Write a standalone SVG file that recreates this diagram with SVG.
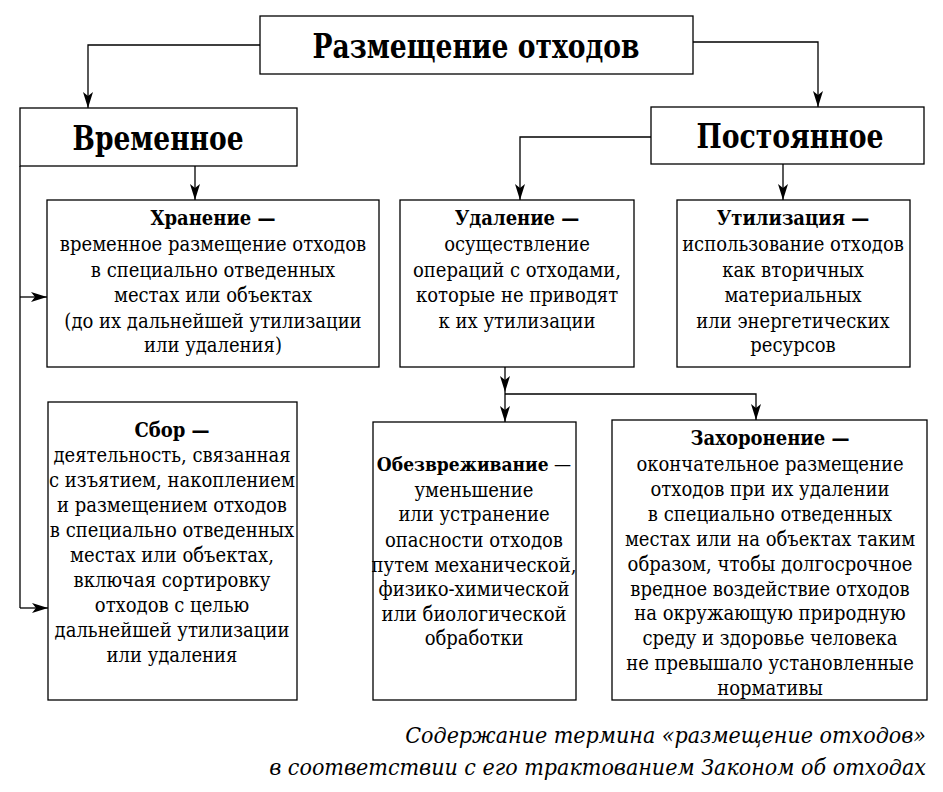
<svg xmlns="http://www.w3.org/2000/svg" width="943" height="792" viewBox="0 0 943 792">
<defs>
<marker id="ah" viewBox="0 0 16 10" refX="16" refY="5" markerWidth="16" markerHeight="10" markerUnits="userSpaceOnUse" orient="auto">
<path d="M0,0 L16,5 L0,10 L4,5 Z" fill="#000"/>
</marker>
<style>
rect.box{fill:#fff;stroke:#000;stroke-width:1.3}
.h{font-family:"DejaVu Serif",serif;font-stretch:condensed;font-weight:bold;font-size:34px;text-anchor:middle}
.t{font-family:"DejaVu Serif",serif;font-stretch:condensed;font-size:20px;text-anchor:middle}
.b{font-weight:bold}
.c{font-family:"DejaVu Serif",serif;font-stretch:condensed;font-style:italic;font-size:23px;text-anchor:end}
.ln{fill:none;stroke:#000;stroke-width:1.3}
</style>
</defs>
<rect width="943" height="792" fill="#fff"/>
<g id="connectors">
<path class="ln" d="M260,45 H88 V108" marker-end="url(#ah)"/>
<path class="ln" d="M693,42 H818 V107" marker-end="url(#ah)"/>
<path class="ln" d="M195,166 V200" marker-end="url(#ah)"/>
<path class="ln" d="M20,166 V608"/>
<path class="ln" d="M20,297 H47" marker-end="url(#ah)"/>
<path class="ln" d="M20,608 H48" marker-end="url(#ah)"/>
<path class="ln" d="M651,137 H520 V200" marker-end="url(#ah)"/>
<path class="ln" d="M783,164 V200" marker-end="url(#ah)"/>
<path class="ln" d="M505,367 V392" marker-end="url(#ah)"/>
<path class="ln" d="M505,392 V422" marker-end="url(#ah)"/>
<path class="ln" d="M505,394 H756 V420" marker-end="url(#ah)"/>
</g>
<g id="root">
<rect class="box" x="260" y="16" width="433" height="58"/>
<text class="h" x="476" y="58" textLength="327" lengthAdjust="spacingAndGlyphs">Размещение отходов</text>
</g>
<g id="temp">
<rect class="box" x="20" y="108" width="277" height="58"/>
<text class="h" x="158" y="150" textLength="171" lengthAdjust="spacingAndGlyphs">Временное</text>
</g>
<g id="perm">
<rect class="box" x="651" y="107" width="273" height="57"/>
<text class="h" x="790" y="148" textLength="187" lengthAdjust="spacingAndGlyphs">Постоянное</text>
</g>
<g id="storage">
<rect class="box" x="47" y="200" width="332" height="167"/>
<text class="t" x="213"><tspan x="213" y="225" class="b">Хранение —</tspan><tspan x="213" y="251">временное размещение отходов</tspan><tspan x="213" y="277">в специально отведенных</tspan><tspan x="213" y="302">местах или объектах</tspan><tspan x="213" y="328">(до их дальнейшей утилизации</tspan><tspan x="213" y="352">или удаления)</tspan></text>
</g>
<g id="removal">
<rect class="box" x="400" y="200" width="234" height="167"/>
<text class="t"><tspan x="517" y="225" class="b">Удаление —</tspan><tspan x="517" y="251">осуществление</tspan><tspan x="517" y="277">операций с отходами,</tspan><tspan x="517" y="302">которые не приводят</tspan><tspan x="517" y="328">к их утилизации</tspan></text>
</g>
<g id="utilization">
<rect class="box" x="677" y="200" width="233" height="167"/>
<text class="t"><tspan x="793" y="225" class="b">Утилизация —</tspan><tspan x="793" y="251">использование отходов</tspan><tspan x="793" y="277">как вторичных</tspan><tspan x="793" y="302">материальных</tspan><tspan x="793" y="328">или энергетических</tspan><tspan x="793" y="352">ресурсов</tspan></text>
</g>
<g id="collection">
<rect class="box" x="48" y="402" width="249" height="298"/>
<text class="t"><tspan x="172" y="437" class="b">Сбор —</tspan><tspan x="172" y="462">деятельность, связанная</tspan><tspan x="172" y="487">с изъятием, накоплением</tspan><tspan x="172" y="512">и размещением отходов</tspan><tspan x="172" y="537">в специально отведенных</tspan><tspan x="172" y="562">местах или объектах,</tspan><tspan x="172" y="587">включая сортировку</tspan><tspan x="172" y="612">отходов с целью</tspan><tspan x="172" y="637">дальнейшей утилизации</tspan><tspan x="172" y="662">или удаления</tspan></text>
</g>
<g id="neutralization">
<rect class="box" x="373" y="422" width="203" height="278"/>
<text class="t"><tspan x="474" y="471" style="font-size:19px"><tspan class="b">Обезвреживание</tspan> —</tspan><tspan x="474" y="497">уменьшение</tspan><tspan x="474" y="521">или устранение</tspan><tspan x="474" y="547">опасности отходов</tspan><tspan x="474" y="572">путем механической,</tspan><tspan x="474" y="596">физико-химической</tspan><tspan x="474" y="621">или биологической</tspan><tspan x="474" y="645">обработки</tspan></text>
</g>
<g id="burial">
<rect class="box" x="612" y="420" width="315" height="280"/>
<text class="t"><tspan x="770" y="445" class="b">Захоронение —</tspan><tspan x="770" y="471">окончательное размещение</tspan><tspan x="770" y="496">отходов при их удалении</tspan><tspan x="770" y="521">в специально отведенных</tspan><tspan x="770" y="546">местах или на объектах таким</tspan><tspan x="770" y="571">образом, чтобы долгосрочное</tspan><tspan x="770" y="596">вредное воздействие отходов</tspan><tspan x="770" y="620">на окружающую природную</tspan><tspan x="770" y="645">среду и здоровье человека</tspan><tspan x="770" y="670">не превышало установленные</tspan><tspan x="770" y="695">нормативы</tspan></text>
</g>
<g id="caption">
<text class="c" x="926" y="743">Содержание термина «размещение отходов»</text>
<text class="c" x="926" y="775">в соответствии с его трактованием Законом об отходах</text>
</g>
</svg>
